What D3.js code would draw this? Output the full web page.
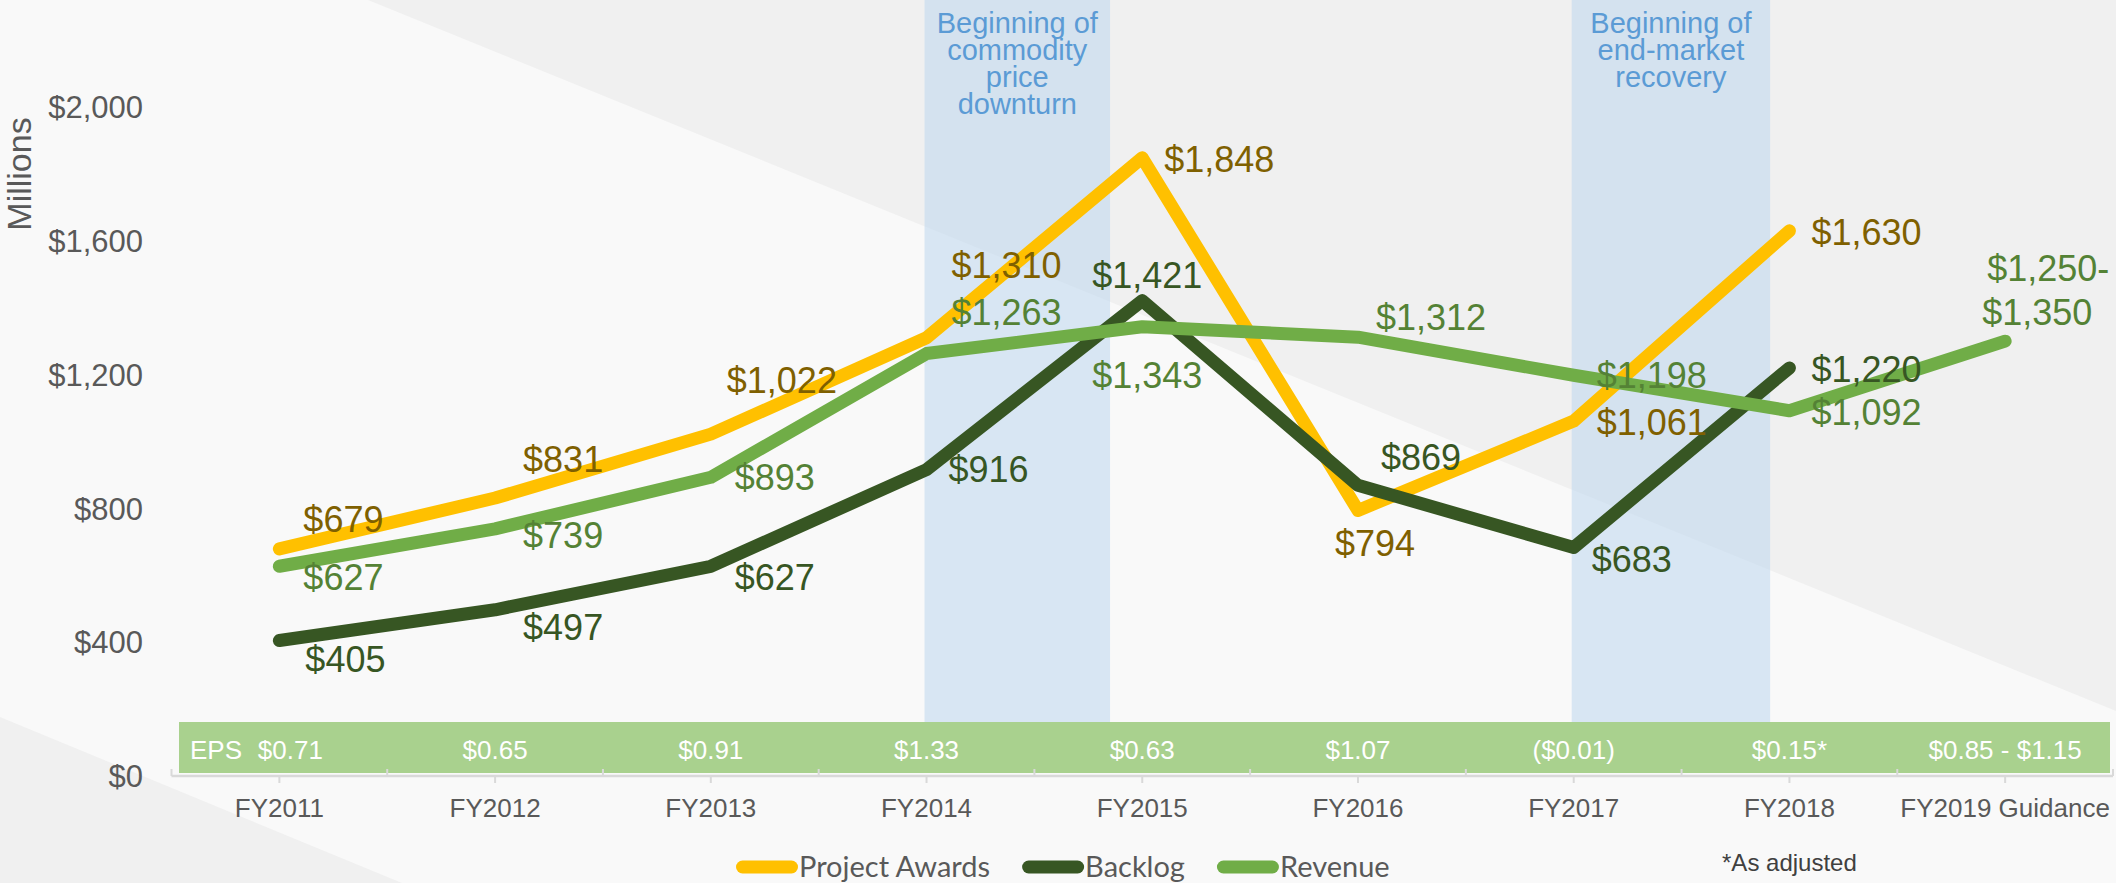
<!DOCTYPE html>
<html><head><meta charset="utf-8">
<script src="https://cdn.jsdelivr.net/npm/d3@7"></script>
<style>
body{margin:0;background:#f9f9f9;}
svg{display:block;font-family:"Liberation Sans",Arial,sans-serif;}
</style>
</head><body>
<svg id="chart" width="2116" height="883"></svg>
<script>
// ---------------- data ----------------
const categories = ["FY2011","FY2012","FY2013","FY2014","FY2015","FY2016","FY2017","FY2018","FY2019 Guidance"];
const projectAwards = [679, 831, 1022, 1310, 1848, 794, 1061, 1630, null];
const backlog       = [405, 497, 627, 916, 1421, 869, 683, 1220, null];
const revenue       = [627, 739, 893, 1263, 1343, 1312, 1198, 1092, 1300];
const revenueGuidanceLabel = ["$1,250-", "$1,350"];
const epsLabels = ["$0.71","$0.65","$0.91","$1.33","$0.63","$1.07","($0.01)","$0.15*","$0.85 - $1.15"];
const yTickValues = [0, 400, 800, 1200, 1600, 2000];
const seriesNames = ["Project Awards","Backlog","Revenue"];
const bandStarts = ["FY2014","FY2017"];
const bandSpans = [0.86, 0.92];
const bandTexts = [["Beginning of","commodity","price","downturn"],["Beginning of","end-market","recovery"]];

// label placement (dx, dy of baseline relative to point)
const awardsLabelPos  = [[24,-17],[28,-26],[16,-41],[25,-60],[22,14],[-23,46],[23,14],[22,14]];
const backlogLabelPos = [[26,31],[28,30],[24,24],[22,12],[-50,-13],[23,-15],[18,24],[22,14]];
const revenueLabelPos = [[24,24],[28,19],[24,13],[25,-29],[-50,61],[18,-7],[23,13],[22,14],[-21,-60]];

// ---------------- layout ----------------
const W = 2116, H = 883;
const svg = d3.select("#chart");
const x = d3.scaleBand().domain(categories).range([171.5, 2113]).padding(0);
const bw = x.bandwidth();
const xc = d => x(d) + bw / 2;
const y = d3.scaleLinear().domain([0, 2000]).range([776, 107]);
const fmt = v => "$" + d3.format(",")(v);

const colors = {awards:"#ffc000", backlog:"#375623", revenue:"#70ad47"};
const labelColors = {awards:"#7f6000", backlog:"#375623", revenue:"#548235"};

// background decoration
svg.append("rect").attr("width", W).attr("height", H).attr("fill", "#f9f9f9");
svg.append("polygon").attr("points", [[368,0],[W,0],[W,711]].join(" ")).attr("fill", "#f0f0f0");
svg.append("polygon").attr("points", [[0,717],[0,H],[402,H]].join(" ")).attr("fill", "#f0f0f0");

// shaded bands
const epsTop = y(0) - 54, epsBottom = y(0) - 3;
bandStarts.forEach((s, i) => {
  const bx = xc(s) - 2, bwid = bandSpans[i] * bw;
  svg.append("rect").attr("x", bx).attr("y", 0).attr("width", bwid).attr("height", epsTop)
    .attr("fill", "#bdd7ee").attr("opacity", 0.55);
  const t = svg.append("text").attr("text-anchor", "middle").attr("fill", "#5b9bd5")
    .attr("font-size", 29);
  bandTexts[i].forEach((line, j) => {
    t.append("tspan").attr("x", bx + bwid / 2).attr("y", 33 + j * 27).text(line);
  });
});

// EPS strip
const [r0, r1] = x.range();
svg.append("rect").attr("x", r0 + 7.5).attr("y", epsTop).attr("width", (r1 - 3) - (r0 + 7.5))
  .attr("height", epsBottom - epsTop).attr("fill", "#a9d18e");
svg.append("text").attr("x", r0 + 18.5).attr("y", y(0) - 17).attr("fill", "#fff")
  .attr("font-size", 26).text("EPS");
svg.selectAll("text.eps").data(epsLabels).join("text").attr("class", "eps")
  .attr("x", (d, i) => xc(categories[i]) + (i === 0 ? 11 : 0))
  .attr("y", y(0) - 17).attr("text-anchor", "middle").attr("fill", "#fff")
  .attr("font-size", 26).text(d => d);

// x axis
svg.append("line").attr("x1", r0).attr("x2", r1).attr("y1", y(0)).attr("y2", y(0))
  .attr("stroke", "#d9d9d9").attr("stroke-width", 2.5);
d3.range(categories.length + 1).forEach(i => {
  const bx = r0 + i * bw;
  svg.append("line").attr("x1", bx).attr("x2", bx).attr("y1", y(0)).attr("y2", y(0) - 7)
    .attr("stroke", "#d9d9d9").attr("stroke-width", 2);
});
categories.forEach(c => {
  svg.append("line").attr("x1", xc(c)).attr("x2", xc(c)).attr("y1", y(0)).attr("y2", y(0) + 7)
    .attr("stroke", "#d9d9d9").attr("stroke-width", 2);
});
svg.selectAll("text.xt").data(categories).join("text").attr("class", "xt")
  .attr("x", d => xc(d)).attr("y", y(0) + 41).attr("text-anchor", "middle")
  .attr("fill", "#595959").attr("font-size", 26).text(d => d);

// y axis labels
svg.selectAll("text.yt").data(yTickValues).join("text").attr("class", "yt")
  .attr("x", 143).attr("y", d => y(d)).attr("dy", "0.36em").attr("text-anchor", "end")
  .attr("fill", "#595959").attr("font-size", 31).text(fmt);
svg.append("text").attr("transform", "translate(31,174) rotate(-90)").attr("text-anchor", "middle")
  .attr("fill", "#595959").attr("font-size", 34).text("Millions");

// lines
const line = d3.line().defined(d => d[1] != null).x(d => xc(d[0])).y(d => y(d[1]));
const series = [
  {key:"awards", values:projectAwards, pos:awardsLabelPos},
  {key:"backlog", values:backlog, pos:backlogLabelPos},
  {key:"revenue", values:revenue, pos:revenueLabelPos}
];
series.forEach(s => {
  svg.append("path").datum(categories.map((c, i) => [c, s.values[i]]))
    .attr("d", line).attr("fill", "none").attr("stroke", colors[s.key])
    .attr("stroke-width", 13).attr("stroke-linejoin", "round").attr("stroke-linecap", "round");
});

// data labels
series.forEach(s => {
  s.values.forEach((v, i) => {
    if (v == null) return;
    const px = xc(categories[i]), py = y(v);
    const [dx, dy] = s.pos[i];
    const t = svg.append("text").attr("fill", labelColors[s.key]).attr("font-size", 36);
    if (s.key === "revenue" && i === categories.length - 1) {
      revenueGuidanceLabel.forEach((ln, j) => {
        t.append("tspan").attr("x", px + dx + (j === 0 ? 3 : -2)).attr("y", py + dy + j * 44).text(ln);
      });
    } else {
      t.attr("x", px + dx).attr("y", py + dy).text(fmt(v));
    }
  });
});

// legend
const legendKeys = ["awards","backlog","revenue"];
let lx = 736;
legendKeys.forEach((k, i) => {
  svg.append("line").attr("x1", lx + 6.5).attr("x2", lx + 55.5).attr("y1", 867).attr("y2", 867)
    .attr("stroke", colors[k]).attr("stroke-width", 13).attr("stroke-linecap", "round");
  const t = svg.append("text").attr("x", lx + 63).attr("y", 877)
    .attr("fill", "#595959").attr("font-size", 29)
    .style("font-family", "Lato, 'Open Sans', sans-serif").text(seriesNames[i]);
  lx = lx + 63 + t.node().getComputedTextLength() + 32;
});

svg.append("text").attr("x", xc("FY2018")).attr("y", 871).attr("text-anchor", "middle")
  .attr("fill", "#404040").attr("font-size", 24).text("*As adjusted");
</script>
</body></html>
